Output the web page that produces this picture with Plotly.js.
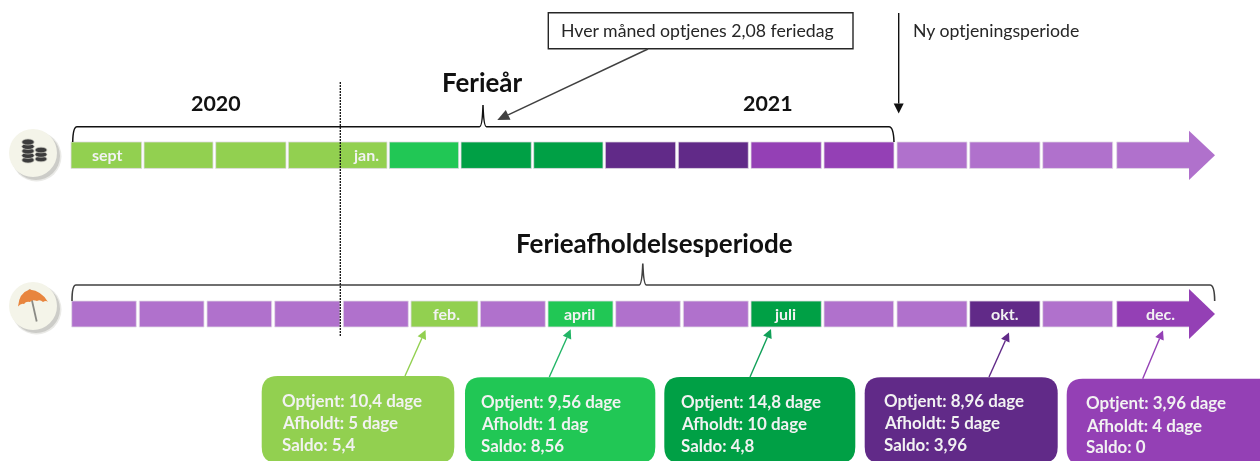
<!DOCTYPE html>
<html>
<head>
<meta charset="utf-8">
<script src="https://cdn.plot.ly/plotly-3.0.1.min.js"></script>
<style>html,body{margin:0;padding:0;background:#fff}#chart{width:1260px;height:461px;filter:blur(0.4px)}</style>
</head>
<body>
<div id="chart"></div>
<script>
// ---------- data ----------
const topStart = [71,144,215.7,288.3,389.3,461,533.7,605.3,678.3,751,824,897,969.7,1042.7,1116.7];
const topEnd   = [141.7,213,286,387,458.7,531.3,603,675.7,748.3,821.3,894,967,1040,1112.7,1190];
const topColors = ['#92D050','#92D050','#92D050','#92D050','#21C755','#00A045','#00A045','#612A88','#612A88','#9440B5','#9440B5','#B071CC','#B071CC','#B071CC','#B071CC'];
const botStart = [71.7,139.3,207,274.7,343.3,411,480.3,548,615.7,683.3,751,824,897,969.7,1042.7,1116.7];
const botEnd   = [136.3,204,271.7,340,408.3,478,545.3,613,680.3,748.3,821.3,893.7,967,1040,1112.7,1190];
const botColors = ['#B071CC','#B071CC','#B071CC','#B071CC','#B071CC','#92D050','#B071CC','#21C755','#B071CC','#B071CC','#00A045','#B071CC','#B071CC','#612A88','#B071CC','#9440B5'];

const topMonthLabels = ['sept','jan.'];
const topMonthX = [107,366];
const botMonthLabels = ['feb.','april','juli','okt.','dec.'];
const botMonthX = [446.7,579.3,785,1005,1160];

const optjent = [10.4,9.56,14.8,8.96,3.96];
const afholdt = [5,1,10,5,4];
const saldo   = [5.4,8.56,4.8,3.96,0];
const boxColors = ['#92D050','#21C755','#00A045','#612A88','#9440B5'];
const arrowColors = ['#92D050','#22B566','#10A058','#612A88','#9440B5'];

// ---------- layout helpers (axis units equal pixels) ----------
const FONT = 'Lato, Carlito, sans-serif';
const rowTop = {y:155.2, h:26.5}, rowBot = {y:314, h:26};
const boxes = [[261.7,454.3,376],[465,655.3,377.3],[664.3,855.3,377],[864.7,1057.7,377.3],[1066.7,1275,378.7]];
const boxBottom = [463,463,463,463,465];
const textLeft = [281.7,481,681,883.7,1085.7];
const textY = [[401,423.3,445.7],[402.3,424.7,446.7],[402,424.5,446.5],[401,423,445],[403.3,426,447.5]];
const leaders = [[405,376,425.5,330],[549.3,377,570.7,329.3],[750,377,771,329],[989,377,1009,332.5],[1142.7,378.7,1163,330.5]];

const shapes = [];
const ann = [];
function path(d, fill, line, lw, extra){
  shapes.push(Object.assign({type:'path',xref:'x',yref:'y',path:d,fillcolor:fill||'rgba(0,0,0,0)',
    line:{color:line||'rgba(0,0,0,0)',width:lw||0}},extra||{}));
}
function lineS(x0,y0,x1,y1,color,w,dash){
  shapes.push({type:'line',xref:'x',yref:'y',x0,y0,x1,y1,line:{color,width:w,dash:dash||'solid'}});
}
function arrow(x0,y0,x1,y1,color,w,len,hw){
  const dx=x1-x0,dy=y1-y0,L=Math.hypot(dx,dy),ux=dx/L,uy=dy/L;
  const bx=x1-ux*len,by=y1-uy*len;
  lineS(x0,y0,bx,by,color,w);
  path(`M${x1},${y1} L${bx-uy*hw},${by+ux*hw} L${bx+uy*hw},${by-ux*hw} Z`,color);
}
function label(text,x,y,size,color,bold,anchor){
  ann.push({text:bold?`<b>${text}</b>`:text,x,y:y-0.8,xref:'x',yref:'y',showarrow:false,xanchor:anchor||'center',yanchor:'middle',
    font:{family:FONT,size,color},align:anchor||'center',borderpad:0,borderwidth:0});
}
function roundBox(x0,x1,y0,y1,r,fill){
  path(`M${x0+r},${y0} L${x1-r},${y0} Q${x1},${y0} ${x1},${y0+r} L${x1},${y1-r} Q${x1},${y1} ${x1-r},${y1} L${x0+r},${y1} Q${x0},${y1} ${x0},${y1-r} L${x0},${y0+r} Q${x0},${y0} ${x0+r},${y0} Z`,fill);
}
function ell(cx,cy,rx,ry,fill,op,line){
  shapes.push({type:'circle',xref:'x',yref:'y',x0:cx-rx,x1:cx+rx,y0:cy-ry,y1:cy+ry,fillcolor:fill,line:line||{width:0},opacity:op===undefined?1:op});
}

// arrow heads of the two rows
path('M1189,130.7 L1215,155.2 L1189,180 Z','#B071CC');
path('M1189,289 L1215,314 L1189,339 Z','#9440B5');

// brackets
path('M72.7,142 Q73,126.7 77,126.7 L479.5,126.7 Q482.3,126.7 483,105 Q483.7,126.7 486.5,126.7 L889,126.7 Q893.5,126.7 894,142','',"#111111",1.5);
path('M72,301 Q72,285 76,285 L639,285 Q642,285 642.8,263.5 Q643.6,285 646.5,285 L1210,285 Q1214.5,285 1214.7,301','',"#404040",1.6);

// callout and arrows
path('M548.3,12.7 L853,12.7 L853,48.7 L548.3,48.7 Z','#FFFFFF','#262626',1.4);
arrow(648,49,497.3,120,'#404040',1.5,12,5.5);
arrow(898.7,13,898.7,113.5,'#111111',1.4,10,5);

// dashed year divider
lineS(340.3,82,340.3,336,'#111111',1.3,'2px,1px');

// balance boxes
boxes.forEach((b,i)=>{
  roundBox(b[0],b[1],b[2],boxBottom[i],16,boxColors[i]);
  const l=leaders[i];
  arrow(l[0],l[1],l[2],l[3],arrowColors[i],1.4,9,4.6);
  const fmt=v=>String(v).replace('.',',');
  label(`Optjent: ${fmt(optjent[i])} ${optjent[i]===1?'dag':'dage'}`,textLeft[i],textY[i][0],16.9,'#F2F2F2',true,'left');
  label(`Afholdt: ${fmt(afholdt[i])} ${afholdt[i]===1?'dag':'dage'}`,textLeft[i],textY[i][1],16.9,'#F2F2F2',true,'left');
  label(`Saldo: ${fmt(saldo[i])}`,textLeft[i],textY[i][2],16.9,'#F2F2F2',true,'left');
});

// icons
[[33,153],[33,306]].forEach(c=>{
  ell(c[0]+3.5,c[1]+3.5,25,25,'#D8D8D4',0.55);
  ell(c[0]+3,c[1]+3,24,24,'#C4C4C0',0.8);
  ell(c[0],c[1],24,24,'#F4F4E9');
});
const coinEdge={color:'#C9C9C0',width:0.7};
[160,155.5,151,146.5,142].forEach(y=>ell(28,y,6.2,3,'#3C3C3C',1,coinEdge));
[159,154.5,150].forEach(y=>ell(41,y,6,2.8,'#3C3C3C',1,coinEdge));
lineS(29.5,289.5,36.7,321.5,'#8A8A85',1.8);
path('M29.5,289.5 Q19,293 18,306.5 Q21,303 24,304 Q26,301 30,302 Q32,299 37,301 Q40,299 43,302 Q46,300 48,302 Q42,291 29.5,289.5 Z','#E8853E');

// text
label('Hver måned optjenes 2,08 feriedag',697.5,31,17.7,'#262626',false);
label('Ny optjeningsperiode',913,31,17.7,'#262626',false,'left');
label('Ferieår',482,83,25.9,'#111111',true);
label('2020',216,104,21.4,'#111111',true);
label('2021',768,104,21.4,'#111111',true);
label('Ferieafholdelsesperiode',654.5,244,26,'#111111',true);
topMonthLabels.forEach((t,i)=>label(t,topMonthX[i],155,16,'#F2F2F2',true));
botMonthLabels.forEach((t,i)=>label(t,botMonthX[i],314,16,'#F2F2F2',true));

function row(starts,ends,colors,r){
  return {type:'bar',orientation:'h',base:starts,x:ends.map((e,i)=>e-starts[i]),
    y:starts.map(()=>r.y),width:starts.map(()=>r.h),
    marker:{color:colors,line:{width:0.8,color:'#E2DCE6'}},hoverinfo:'skip',showlegend:false};
}
const data=[row(topStart,topEnd,topColors,rowTop),row(botStart,botEnd,botColors,rowBot)];
const layout={
  width:1260,height:461,margin:{l:0,r:0,t:0,b:0},paper_bgcolor:'#fff',plot_bgcolor:'#fff',barmode:'overlay',showlegend:false,
  xaxis:{range:[0,1260],visible:false,fixedrange:true},
  yaxis:{range:[461,0],visible:false,fixedrange:true},
  shapes,annotations:ann
};
Plotly.newPlot('chart',data,layout,{displayModeBar:false,staticPlot:true});
</script>
</body>
</html>
